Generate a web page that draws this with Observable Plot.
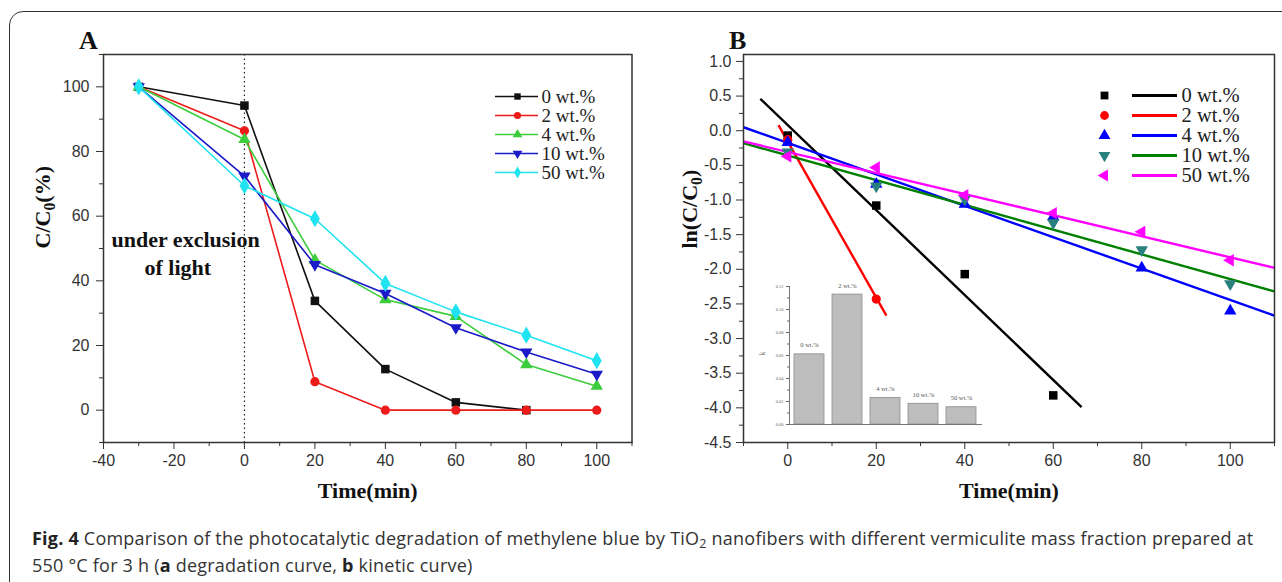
<!DOCTYPE html>
<html><head><meta charset="utf-8">
<script src="https://cdn.jsdelivr.net/npm/d3@7"></script>
<script src="https://cdn.jsdelivr.net/npm/@observablehq/plot@0.6"></script>
<style>
html,body{margin:0;padding:0;background:#fff;}
body{width:1282px;height:582px;overflow:hidden;position:relative;font-family:"Liberation Sans",Arial,sans-serif;}
#border{position:absolute;left:9px;top:11px;width:1320px;height:640px;border:1.5px solid #333;border-radius:14px;box-sizing:border-box;}
.abs{position:absolute;}
.panel{position:absolute;font-family:"Liberation Serif",serif;font-weight:bold;font-size:26px;line-height:26px;color:#111;}
#caption{position:absolute;left:32px;top:525px;font-family:"Open Sans",sans-serif;font-size:18px;letter-spacing:0.22px;line-height:27px;color:#333;white-space:nowrap;}
#caption sub{font-size:0.7em;line-height:0;vertical-align:-0.25em;}
#caption b{color:#222;}
</style></head><body>
<div id="border"></div>
<div class="panel" style="left:79px;top:28px;">A</div>
<div class="panel" style="left:729px;top:28px;">B</div>
<div id="plotA" class="abs" style="left:0;top:0;"></div>
<div id="plotB" class="abs" style="left:640px;top:0;"></div>
<div id="legendA" class="abs" style="left:490px;top:70px;"></div>
<div id="legendB" class="abs" style="left:1090px;top:70px;"></div>
<div id="inset" class="abs" style="left:740px;top:270px;"></div>
<div id="caption"><b>Fig. 4</b> Comparison of the photocatalytic degradation of methylene blue by TiO<sub>2</sub> nanofibers with different vermiculite mass fraction prepared at<br>550 °C for 3 h (<b>a</b> degradation curve, <b>b</b> kinetic curve)</div>
<script>
// ---------- data ----------
const seriesNames = ["0 wt.%", "2 wt.%", "4 wt.%", "10 wt.%", "50 wt.%"];

// Panel A: C/C0 (%) vs time
const timeA = [-30, 0, 20, 40, 60, 80, 100];
const a0  = [100, 94.2, 33.8, 12.7, 2.4, 0, null];
const a2  = [100, 86.4, 8.8, 0, 0, 0, 0];
const a4  = [100, 83.7, 46.4, 34.2, 29.0, 14.1, 7.4];
const a10 = [100, 72.4, 45.0, 36.1, 25.5, 18.0, 11.1];
const a50 = [100, 69.4, 59.2, 39.2, 30.4, 23.2, 15.3];
const seriesA = [a0, a2, a4, a10, a50];
const noteText = ["under exclusion", "of light"];
const noteX = [-16.7, -18.9];
const noteY = [52.6, 44.1];

// Panel B: ln(C/C0) vs time
const timeB = [0, 20, 40, 60, 80, 100];
const b0  = [-0.07, -1.08, -2.07, -3.82, null, null];
const b2  = [-0.13, -2.43, null, null, null, null];
const b4  = [-0.17, -0.77, -1.06, -1.24, -1.98, -2.60];
const b10 = [-0.31, -0.80, -0.99, -1.33, -1.72, -2.21];
const b50 = [-0.37, -0.53, -0.93, -1.19, -1.46, -1.87];
const seriesB = [b0, b2, b4, b10, b50];
// fitted lines (end points)
const fitX0 = [-6.2, -2.1, -10, -10, -10];
const fitY0 = [0.46, 0.08, 0.05, -0.18, -0.155];
const fitX1 = [66.4, 22.3, 110, 110, 110];
const fitY1 = [-3.99, -2.67, -2.67, -2.32, -1.98];

// Inset: rate constants k
const kValues = [0.061, 0.113, 0.023, 0.018, 0.015];

// ticks
const xMajorA = [-40, -20, 0, 20, 40, 60, 80, 100];
const xMinorA = [-30, -10, 10, 30, 50, 70, 90, 110];
const yMajorA = [0, 20, 40, 60, 80, 100];
const yMinorA = [-10, 10, 30, 50, 70, 90, 110];
const xMajorB = [0, 20, 40, 60, 80, 100];
const xMinorB = [-10, 10, 30, 50, 70, 90, 110];
const yMajorB = [1.0, 0.5, 0.0, -0.5, -1.0, -1.5, -2.0, -2.5, -3.0, -3.5, -4.0, -4.5];
const yMinorB = [0.75, 0.25, -0.25, -0.75, -1.25, -1.75, -2.25, -2.75, -3.25, -3.75, -4.25];
const kMajor = [0, 0.02, 0.04, 0.06, 0.08, 0.10, 0.12];
const kMinor = [0.01, 0.03, 0.05, 0.07, 0.09, 0.11];

// ---------- styles ----------
const colorsA = ["#111111", "#ee1b1b", "#3ccd3c", "#1a1ac8", "#1fe3f0"];
const lineColorsB = ["#000000", "#ff0000", "#0000ff", "#008000", "#ff00ff"];
const dotColorsB = ["#000000", "#ff0000", "#0000ff", "#2a7f7f", "#ff00ff"];
const SERIF = "Liberation Serif, Times New Roman, serif";
const SANS = "Liberation Sans, Arial, sans-serif";

const triDown = {draw(c, size){ const y = Math.sqrt(size / (Math.sqrt(3) * 3)); c.moveTo(0, 2 * y); c.lineTo(-Math.sqrt(3) * y, -y); c.lineTo(Math.sqrt(3) * y, -y); c.closePath(); }};
const triLeft = {draw(c, size){ const y = Math.sqrt(size / (Math.sqrt(3) * 3)); c.moveTo(-2 * y, 0); c.lineTo(y, -Math.sqrt(3) * y); c.lineTo(y, Math.sqrt(3) * y); c.closePath(); }};
const symA = ["square", "circle", "triangle", triDown, "diamond"];
const rA = [4.8, 4.6, 4.6, 4.6, 5.2];
const symB = ["square", "circle", "triangle", triDown, triLeft];
const rB = [4.8, 4.6, 4.6, 4.6, 4.6];

function subscript(svg, full, before, sub, after) {
  d3.select(svg).selectAll("text").filter(function(){ return this.textContent === full; }).each(function(){
    const t = d3.select(this); t.text(null);
    t.append("tspan").text(before);
    t.append("tspan").attr("dy", "0.35em").attr("font-size", "0.72em").text(sub);
    t.append("tspan").attr("dy", "-0.25em").text(after);
  });
}

const plotStyle = {fontFamily: SANS, fontSize: "16px", color: "#333", background: "transparent", overflow: "visible"};

// ---------- Panel A ----------
const marksA = [
  Plot.ruleX([0], {stroke: "#222", strokeWidth: 1.2, strokeDasharray: "1.5,3"}),
];
seriesA.forEach((vals, i) => {
  const rows = timeA.map((t, j) => ({t, v: vals[j]}));
  marksA.push(Plot.line(rows, {x: "t", y: "v", stroke: colorsA[i], strokeWidth: 1.6}));
  marksA.push(Plot.dot(rows.filter(d => d.v != null), {x: "t", y: "v", symbol: symA[i], r: rA[i], fill: colorsA[i]}));
});
marksA.push(
  Plot.text(noteText, {x: (d, i) => noteX[i], y: (d, i) => noteY[i], text: d => d, fontFamily: SERIF, fontWeight: "bold", fontSize: 22, fill: "#111"}),
  Plot.frame({stroke: "#333", strokeWidth: 1.5}),
  Plot.axisX(xMinorA, {tickSize: 4, tickFormat: () => "", label: null}),
  Plot.axisX(xMajorA, {tickSize: 7, tickPadding: 5, tickFormat: d => String(d), label: null}),
  Plot.axisY(yMinorA, {tickSize: 4, tickFormat: () => "", label: null}),
  Plot.axisY(yMajorA, {tickSize: 7, tickPadding: 7, tickFormat: d => String(d), label: null}),
  Plot.text(["Time(min)"], {frameAnchor: "bottom", dy: 55, text: d => d, fontFamily: SERIF, fontWeight: "bold", fontSize: 22, fill: "#111"}),
  Plot.text(["C/C0(%)"], {frameAnchor: "left", dx: -61, rotate: -90, text: d => d, fontFamily: SERIF, fontWeight: "bold", fontSize: 22, fill: "#111"})
);
const svgA = Plot.plot({
  width: 640, height: 520, marginLeft: 103, marginRight: 8.5, marginTop: 54, marginBottom: 78,
  x: {domain: [-40, 110]}, y: {domain: [-10, 110]},
  style: plotStyle, marks: marksA
});
subscript(svgA, "C/C0(%)", "C/C", "0", "(%)");
document.getElementById("plotA").appendChild(svgA);

// ---------- Panel B ----------
const marksB = [];
seriesB.forEach((vals, i) => {
  marksB.push(Plot.link([i], {x1: k => fitX0[k], y1: k => fitY0[k], x2: k => fitX1[k], y2: k => fitY1[k], stroke: lineColorsB[i], strokeWidth: 2.4}));
});
seriesB.forEach((vals, i) => {
  const rows = timeB.map((t, j) => ({t, v: vals[j]})).filter(d => d.v != null);
  marksB.push(Plot.dot(rows, {x: "t", y: "v", symbol: symB[i], r: rB[i], fill: dotColorsB[i]}));
});
marksB.push(
  Plot.frame({stroke: "#333", strokeWidth: 1.5}),
  Plot.axisX(xMinorB, {tickSize: 4, tickFormat: () => "", label: null}),
  Plot.axisX(xMajorB, {tickSize: 7, tickPadding: 5, tickFormat: d => String(d), label: null}),
  Plot.axisY(yMinorB, {tickSize: 4, tickFormat: () => "", label: null}),
  Plot.axisY(yMajorB, {tickSize: 7, tickPadding: 5, tickFormat: d => d.toFixed(1), label: null}),
  Plot.text(["Time(min)"], {frameAnchor: "bottom", dy: 55, text: d => d, fontFamily: SERIF, fontWeight: "bold", fontSize: 22, fill: "#111"}),
  Plot.text(["ln(C/C0)"], {frameAnchor: "left", dx: -54, rotate: -90, text: d => d, fontFamily: SERIF, fontWeight: "bold", fontSize: 22, fill: "#111"})
);
const svgB = Plot.plot({
  width: 642, height: 520, marginLeft: 103, marginRight: 8, marginTop: 54, marginBottom: 78,
  x: {domain: [-10, 110]}, y: {domain: [-4.5, 1.1]},
  style: plotStyle, marks: marksB
});
subscript(svgB, "ln(C/C0)", "ln(C/C", "0", ")");
document.getElementById("plotB").appendChild(svgB);

// ---------- Legends ----------
function legend(el, opts) {
  const marks = [];
  seriesNames.forEach((name, i) => {
    marks.push(Plot.ruleY([name], {y: d => d, x1: opts.lx1, x2: opts.lx2, stroke: opts.lineColors[i], strokeWidth: opts.lw}));
    marks.push(Plot.dot([name], {y: d => d, x: opts.mx, symbol: opts.sym[i], r: opts.r, fill: opts.dotColors[i]}));
  });
  marks.push(Plot.text(seriesNames, {y: d => d, x: opts.tx, text: d => d, textAnchor: "start", fontFamily: SERIF, fontSize: opts.fs, fill: "#222"}));
  const svg = Plot.plot({
    width: opts.w, height: opts.h, marginLeft: 0, marginRight: 0, marginTop: 15, marginBottom: 15,
    x: {domain: [0, opts.w], axis: null}, y: {type: "point", domain: seriesNames, axis: null},
    style: plotStyle, marks
  });
  document.getElementById(el).appendChild(svg);
}
legend("legendA", {w: 150, h: 128, lx1: 5, lx2: 48, mx: 27, tx: 51, lw: 1.6, r: 3.6, fs: 19,
  lineColors: colorsA, dotColors: colorsA, sym: symA});
legend("legendB", {w: 180, h: 130, lx1: 42, lx2: 87, mx: 14, tx: 91, lw: 3, r: 4.4, fs: 20.5,
  lineColors: lineColorsB, dotColors: dotColorsB, sym: symB});

// ---------- Inset ----------
const kRows = seriesNames.map((s, i) => ({s, k: kValues[i]}));
const svgI = Plot.plot({
  width: 250, height: 165, marginLeft: 49, marginRight: 9, marginTop: 16, marginBottom: 11,
  x: {type: "band", domain: seriesNames, paddingInner: 0.2, paddingOuter: 0.1, axis: null},
  y: {domain: [0, 0.12], axis: null},
  style: {...plotStyle, fontFamily: SERIF, fontSize: "5px", color: "#666"},
  marks: [
    Plot.barY(kRows, {x: "s", y: "k", fill: "#bdbdbd", stroke: "#8c8c8c", strokeWidth: 0.8}),
    Plot.frame({anchor: "left", stroke: "#777", strokeWidth: 1}),
    Plot.frame({anchor: "bottom", stroke: "#777", strokeWidth: 1}),
    Plot.axisY(kMinor, {tickSize: 2, tickFormat: () => "", label: null}),
    Plot.axisY(kMajor, {tickSize: 3, tickPadding: 3, tickFormat: d => d.toFixed(2), label: null, fontSize: 4.5}),
    Plot.text(kRows, {x: "s", y: "k", text: "s", dy: -9, fontFamily: SERIF, fontSize: 6.5, fill: "#555"}),
    Plot.text(["k"], {frameAnchor: "left", dx: -27, rotate: -90, text: d => d, fontFamily: SERIF, fontSize: 8, fill: "#666"})
  ]
});
document.getElementById("inset").appendChild(svgI);
</script>
</body></html>
